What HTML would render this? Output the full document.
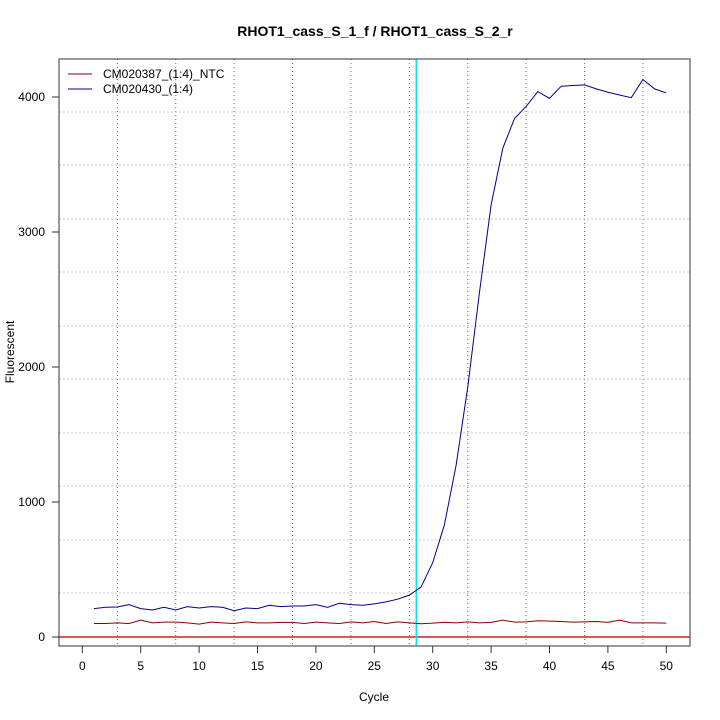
<!DOCTYPE html><html><head><style>body{margin:0;background:#fff}svg{display:block}text{font-family:"Liberation Sans",sans-serif}</style></head><body>
<svg id="s" width="720" height="720" xmlns="http://www.w3.org/2000/svg">
<rect width="720" height="720" fill="#fff"/>
<g id="grid"></g>
<line x1="59" y1="637" x2="690" y2="637" stroke="#c22" stroke-width="1.5"/>
<line x1="416.3" y1="59" x2="416.3" y2="646" stroke="#00e5ee" stroke-width="1.5"/>
<polyline id="red" fill="none" stroke="#8b0000" stroke-width="1"/>
<polyline id="blue" fill="none" stroke="#00008b" stroke-width="1"/>
<rect x="59" y="59" width="631" height="587" fill="none" stroke="#333" stroke-width="1"/>
<g id="ax" stroke="#333"></g>
<text x="375" y="36" text-anchor="middle" font-weight="bold" font-size="14">RHOT1_cass_S_1_f / RHOT1_cass_S_2_r</text>
<text x="374" y="701" text-anchor="middle" font-size="12">Cycle</text>
<text transform="translate(14,352) rotate(-90)" text-anchor="middle" font-size="12">Fluorescent</text>
<line x1="68" y1="74" x2="92" y2="74" stroke="#8b0000"/>
<line x1="68" y1="89" x2="92" y2="89" stroke="#00008b"/>
<text x="103" y="78" font-size="12">CM020387_(1:4)_NTC</text>
<text x="103" y="93" font-size="12">CM020430_(1:4)</text>
</svg>
<script>
var ns="http://www.w3.org/2000/svg",g=document.getElementById('grid'),ax=document.getElementById('ax'),s=document.getElementById('s');
function el(p,t,a){var e=document.createElementNS(ns,t);for(var k in a)e.setAttribute(k,a[k]);p.appendChild(e);return e;}
function X(c){return 82.3+11.68*c}function Y(v){return 637-0.135*v}
for(var c=3;c<=48;c+=5)el(g,'line',{x1:X(c),x2:X(c),y1:59,y2:646,stroke:'#666','stroke-dasharray':'1 3'});
[112,165,219,272,326,379,433,486,540,593].forEach(function(y){el(g,'line',{x1:59,x2:690,y1:y,y2:y,stroke:'#c8c8c8','stroke-dasharray':'2 2'})});
for(var c=0;c<=50;c+=5){el(ax,'line',{x1:X(c),x2:X(c),y1:646,y2:653});var t=el(s,'text',{x:X(c),y:670,'text-anchor':'middle','font-size':12});t.textContent=c;}
for(var v=0;v<=4000;v+=1000){el(ax,'line',{x1:52,x2:59,y1:Y(v),y2:Y(v)});var t=el(s,'text',{x:45,y:Y(v)+4,'text-anchor':'end','font-size':12});t.textContent=v;}
var b=[210,220,222,240,210,200,220,200,225,215,225,220,195,215,210,235,225,230,230,240,220,250,240,235,245,260,280,310,370,550,830,1270,1850,2550,3200,3620,3840,3930,4040,3990,4080,4085,4090,4060,4035,4015,3995,4130,4060,4030];
var r=[100,100,105,100,125,105,110,110,105,95,110,105,100,112,105,105,108,108,100,110,105,100,112,105,115,100,112,105,98,103,108,105,112,105,108,125,110,112,120,118,115,110,112,115,108,125,105,105,105,103];
document.getElementById('blue').setAttribute('points',b.map(function(v,i){return X(i+1)+','+Y(v)}).join(' '));
document.getElementById('red').setAttribute('points',r.map(function(v,i){return X(i+1)+','+Y(v)}).join(' '));
</script></body></html>
